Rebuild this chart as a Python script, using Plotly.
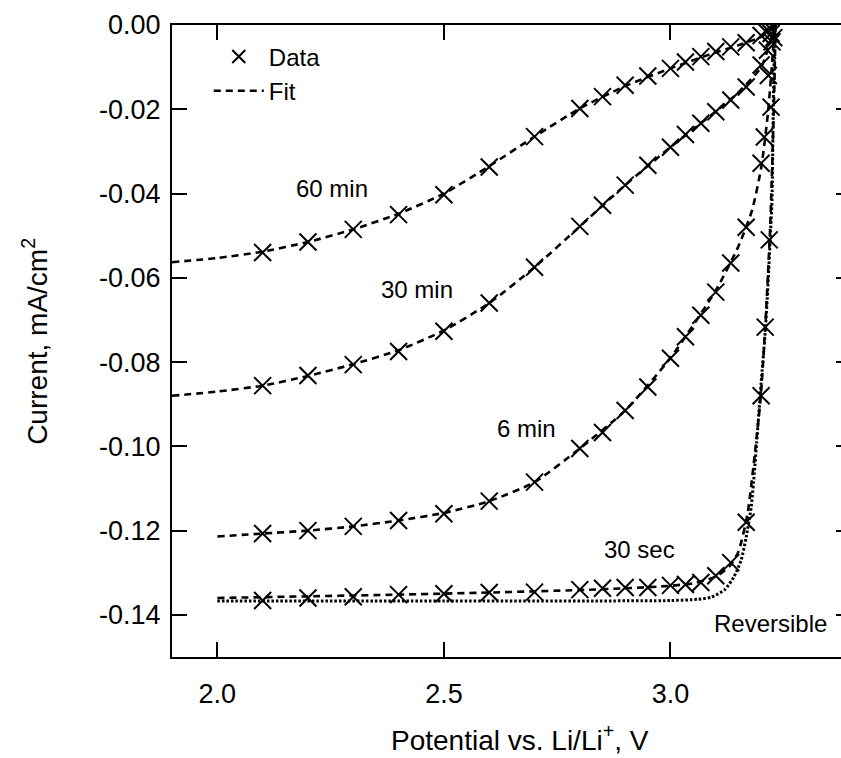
import plotly.graph_objects as go

# ---------------- data ----------------
V_60 = [2.1, 2.2, 2.3, 2.4, 2.5, 2.6, 2.7, 2.8, 2.85, 2.9, 2.95, 3.0, 3.033, 3.067, 3.1, 3.133, 3.167, 3.2, 3.21, 3.22]
I_60 = [-0.054, -0.0515, -0.0485, -0.045, -0.0403, -0.0337, -0.0265, -0.0198, -0.017, -0.0143, -0.0121, -0.0103,
        -0.0088, -0.0075, -0.0063, -0.0052, -0.0042, -0.0025, -0.0015, -0.0008]

V_30 = [2.1, 2.2, 2.3, 2.4, 2.5, 2.6, 2.7, 2.8, 2.85, 2.9, 2.95, 3.0, 3.033, 3.067, 3.1, 3.133, 3.167, 3.2, 3.214, 3.222]
I_30 = [-0.0856, -0.0832, -0.0806, -0.0775, -0.0727, -0.066, -0.0575, -0.0478, -0.0428, -0.038, -0.0333, -0.029,
        -0.026, -0.0233, -0.0206, -0.0178, -0.0147, -0.0095, -0.006, -0.002]

V_6 = [2.1, 2.2, 2.3, 2.4, 2.5, 2.6, 2.7, 2.8, 2.85, 2.9, 2.95, 3.0, 3.033, 3.067, 3.1, 3.133, 3.167, 3.2, 3.207, 3.216, 3.224]
I_6 = [-0.1207, -0.12, -0.119, -0.1176, -0.116, -0.113, -0.1085, -0.1005, -0.0967, -0.0915, -0.0859, -0.0791,
       -0.074, -0.0689, -0.0634, -0.0565, -0.048, -0.0328, -0.0266, -0.012, -0.004]

V_30s = [2.1, 2.2, 2.3, 2.4, 2.5, 2.6, 2.7, 2.8, 2.85, 2.9, 2.95, 3.0, 3.033, 3.067, 3.1, 3.133, 3.167, 3.2, 3.209, 3.218, 3.222, 3.228]
I_30s = [-0.1366, -0.136, -0.1357, -0.1352, -0.135, -0.1347, -0.1346, -0.134, -0.1337, -0.1335, -0.1335, -0.133,
         -0.1328, -0.1323, -0.1307, -0.1276, -0.118, -0.088, -0.0717, -0.051, -0.0195, -0.003]

# fits
FV_60 = [1.9, 2.0, 2.1, 2.2, 2.3, 2.4, 2.5, 2.6, 2.7, 2.8, 2.9, 3.0, 3.1, 3.15, 3.2, 3.22, 3.23]
FI_60 = [-0.0563, -0.0553, -0.0538, -0.0515, -0.0485, -0.0448, -0.0400, -0.0335, -0.0265, -0.0198, -0.0145,
         -0.0103, -0.0065, -0.0048, -0.0028, -0.0012, 0.0]

FV_30 = [1.9, 2.0, 2.1, 2.2, 2.3, 2.4, 2.5, 2.6, 2.7, 2.8, 2.9, 3.0, 3.1, 3.15, 3.2, 3.22, 3.23]
FI_30 = [-0.0880, -0.0870, -0.0856, -0.0833, -0.0805, -0.0772, -0.0725, -0.0660, -0.0575, -0.0478, -0.0380,
         -0.0290, -0.0205, -0.0160, -0.0100, -0.0040, 0.0]

FV_6 = [2.0, 2.1, 2.2, 2.3, 2.4, 2.5, 2.6, 2.7, 2.8, 2.9, 3.0, 3.1, 3.15, 3.18, 3.2, 3.215, 3.225, 3.23]
FI_6 = [-0.1214, -0.1207, -0.1200, -0.1190, -0.1176, -0.1158, -0.1130, -0.1085, -0.1005, -0.0915, -0.0790,
        -0.0630, -0.0525, -0.0440, -0.0340, -0.0210, -0.0080, 0.0]

FV_30s = [2.0, 2.2, 2.4, 2.6, 2.8, 2.9, 3.0, 3.05, 3.1, 3.13, 3.15, 3.17, 3.19, 3.2, 3.21, 3.22, 3.228, 3.232]
FI_30s = [-0.1360, -0.1356, -0.1352, -0.1347, -0.1341, -0.1337, -0.1331, -0.1325, -0.1309, -0.1285, -0.1250,
          -0.1160, -0.0980, -0.0870, -0.0700, -0.0480, -0.0200, 0.0]

RV = [2.0, 2.5, 3.0, 3.06, 3.09, 3.12, 3.14, 3.156, 3.167, 3.178, 3.185, 3.19, 3.2, 3.209, 3.215, 3.22, 3.224, 3.227, 3.23]
RI = [-0.1367, -0.1367, -0.1366, -0.1363, -0.1358, -0.1340, -0.1310, -0.1270, -0.1216, -0.1145, -0.1064,
      -0.0993, -0.085, -0.073, -0.062, -0.051, -0.0416, -0.0178, 0.0]

labels = ["60 min", "30 min", "6 min", "30 sec", "Reversible"]
label_V = [2.253, 2.44, 2.683, 2.932, 3.22]
label_I = [-0.0387, -0.0627, -0.0957, -0.1245, -0.142]

x_ticks = [2.0, 2.5, 3.0]
x_ticktext = ["2.0", "2.5", "3.0"]
y_ticks = [0.0, -0.02, -0.04, -0.06, -0.08, -0.10, -0.12, -0.14]
y_ticktext = ["0.00", "-0.02", "-0.04", "-0.06", "-0.08", "-0.10", "-0.12", "-0.14"]

# ---------------- figure ----------------
FONT = "Liberation Sans, Arial, sans-serif"
DASH = "7px,5px"
fig = go.Figure()

for fv, fi in [(FV_60, FI_60), (FV_30, FI_30), (FV_6, FI_6), (FV_30s, FI_30s)]:
    fig.add_trace(go.Scatter(x=fv, y=fi, mode="lines",
                             line=dict(color="black", width=2.6, dash=DASH, shape="spline", smoothing=0.6),
                             showlegend=False, hoverinfo="skip"))
fig.add_trace(go.Scatter(x=RV, y=RI, mode="lines",
                         line=dict(color="black", width=3, dash="2.5px,2px", shape="spline", smoothing=0.6),
                         showlegend=False, hoverinfo="skip"))

mk = dict(symbol="x-thin", size=17, line=dict(color="black", width=2), color="black")
for v, i in [(V_60, I_60), (V_30, I_30), (V_6, I_6), (V_30s, I_30s)]:
    fig.add_trace(go.Scatter(x=v, y=i, mode="markers", marker=mk, showlegend=False))

# legend entries
fig.add_trace(go.Scatter(x=[None], y=[None], mode="markers",
                         marker=dict(symbol="x-thin", size=13, line=dict(color="black", width=2), color="black"),
                         name="Data"))
fig.add_trace(go.Scatter(x=[None], y=[None], mode="lines", line=dict(color="black", width=2.6, dash=DASH), name="Fit"))

# invisible trace for right-side ticks
fig.add_trace(go.Scatter(x=[None], y=[None], yaxis="y2", showlegend=False, hoverinfo="skip"))

for t, xv, yv in zip(labels, label_V, label_I):
    fig.add_annotation(x=xv, y=yv, text=t, showarrow=False, font=dict(family=FONT, size=24, color="black"))

fig.add_annotation(xref="paper", yref="paper", x=0.52, y=-0.128, text="Potential vs. Li/Li<sup>+</sup>, V",
                   showarrow=False, xanchor="center", yanchor="middle", font=dict(family=FONT, size=28, color="black"))
fig.add_annotation(xref="paper", yref="paper", x=-0.205, y=0.5, text="Current, mA/cm<sup>2</sup>", textangle=-90,
                   showarrow=False, xanchor="center", yanchor="middle", font=dict(family=FONT, size=28, color="black"))

fig.update_layout(
    width=841, height=758,
    margin=dict(l=172, r=0, t=25, b=101),
    paper_bgcolor="white", plot_bgcolor="white",
    font=dict(family=FONT, size=27, color="black"),
    showlegend=True,
    legend=dict(x=0.055, y=0.985, xanchor="left", yanchor="top", bgcolor="rgba(0,0,0,0)",
                font=dict(family=FONT, size=24, color="black"), itemwidth=50, tracegroupgap=0),
    xaxis=dict(range=[1.9, 3.3763], tickvals=x_ticks, ticktext=x_ticktext, ticks="inside", ticklen=15, tickwidth=2,
               tickcolor="black", showline=True, linewidth=2, linecolor="black", mirror="ticks",
               showgrid=False, zeroline=False, ticklabelstandoff=12,
               tickfont=dict(family=FONT, size=27, color="black")),
    yaxis=dict(range=[-0.15, 0.0], tickvals=y_ticks, ticktext=y_ticktext, ticks="inside", ticklen=15, tickwidth=2,
               tickcolor="black", showline=True, linewidth=2, linecolor="black",
               showgrid=False, zeroline=False, ticklabelstandoff=4,
               tickfont=dict(family=FONT, size=27, color="black")),
    yaxis2=dict(range=[-0.15, 0.0], overlaying="y", side="right", tickvals=y_ticks, ticks="inside", ticklen=5,
                tickwidth=2, tickcolor="black", showticklabels=False, showline=False, showgrid=False, zeroline=False),
)

fig.write_html("out.html")
